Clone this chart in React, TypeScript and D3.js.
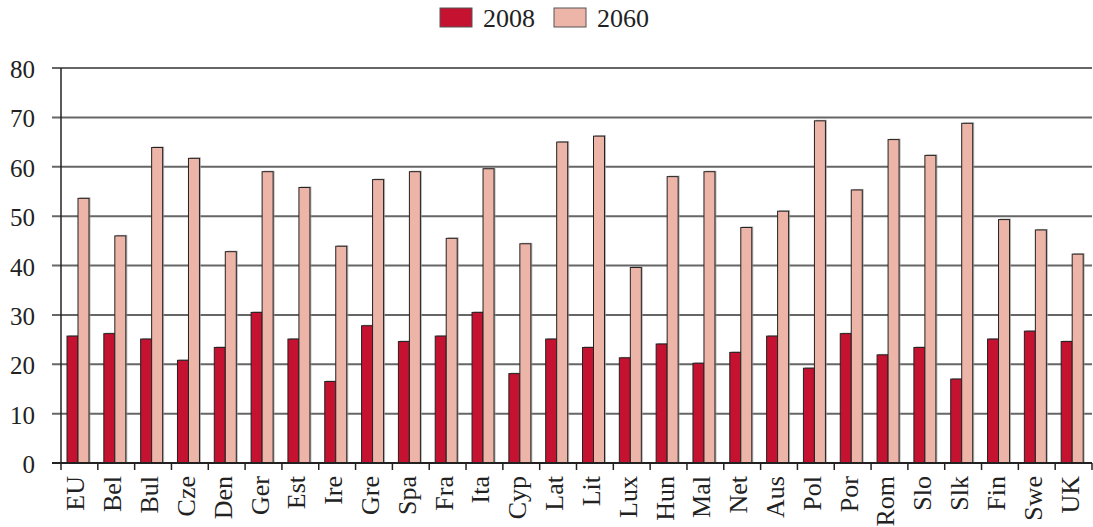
import React from "react";
import * as d3 from "d3";

// country codes along the x axis
const countries = [
  "EU", "Bel", "Bul", "Cze", "Den", "Ger", "Est", "Ire", "Gre", "Spa",
  "Fra", "Ita", "Cyp", "Lat", "Lit", "Lux", "Hun", "Mal", "Net", "Aus",
  "Pol", "Por", "Rom", "Slo", "Slk", "Fin", "Swe", "UK",
];

const values2008 = [
  25.7, 26.2, 25.1, 20.8, 23.4, 30.5, 25.1, 16.5, 27.8, 24.6,
  25.7, 30.5, 18.1, 25.1, 23.4, 21.3, 24.1, 20.2, 22.4, 25.7,
  19.2, 26.2, 21.9, 23.4, 17.0, 25.1, 26.7, 24.6,
];

const values2060 = [
  53.6, 46.0, 63.9, 61.7, 42.8, 59.0, 55.8, 43.9, 57.4, 59.0,
  45.5, 59.6, 44.4, 65.0, 66.2, 39.6, 58.0, 59.0, 47.7, 51.0,
  69.3, 55.3, 65.5, 62.3, 68.8, 49.3, 47.2, 42.3,
];

const seriesNames = ["2008", "2060"];
const yTicks = [0, 10, 20, 30, 40, 50, 60, 70, 80];

const colors = ["#c41230", "#edb4a8"];
const font = "'Liberation Serif', 'Times New Roman', serif";

export default function App() {
  const width = 1093;
  const height = 527;
  const left = 61;
  const right = 1092;
  const top = 68;
  const bottom = 463;

  const x = d3.scaleBand<string>().domain(countries).range([left, right]).padding(0);
  const y = d3.scaleLinear().domain([0, 80]).range([bottom, top]);
  const barW = 11;
  const offset = 6;

  const series = [values2008, values2060];

  return (
    <svg width={width} height={height} style={{ position: "absolute", left: 0, top: 0 }}>
      <rect width={width} height={height} fill="#fff" />

      {/* legend */}
      {seriesNames.map((name, i) => (
        <g key={name} transform={`translate(${440 + i * 114},0)`}>
          <rect x={0} y={8} width={32} height={19} fill={colors[i]} stroke="#555" strokeWidth={1} />
          <text x={43} y={27} fontFamily={font} fontSize={26} fill="#222">
            {name}
          </text>
        </g>
      ))}

      {/* grid + y labels */}
      {yTicks.map((t) => (
        <g key={t}>
          {t > 0 && (
            <line x1={52} x2={right} y1={y(t)} y2={y(t)} stroke="#666" strokeWidth={2} />
          )}
          <text
            x={35}
            y={y(t) + 10}
            textAnchor="end"
            fontFamily={font}
            fontSize={25}
            fill="#222"
          >
            {t}
          </text>
        </g>
      ))}

      {/* bars */}
      {countries.map((c, i) => (
        <g key={c}>
          {series.map((vals, s) => {
            const bx = (x(c) as number) + offset + s * barW;
            const by = y(vals[i]);
            const bh = bottom - by;
            return (
              <g key={s}>
                <rect x={bx + 1.5} y={by - 1} width={barW} height={bh + 1} fill="#999" opacity={0.7} />
                <rect x={bx} y={by} width={barW} height={bh} fill={colors[s]} stroke="#222" strokeWidth={1} />
              </g>
            );
          })}
        </g>
      ))}

      {/* axes */}
      <line x1={52} x2={right} y1={bottom} y2={bottom} stroke="#222" strokeWidth={2} />
      <line x1={left} x2={left} y1={top} y2={470} stroke="#222" strokeWidth={1.5} />
      {countries.map((c) => (
        <line key={c} x1={(x(c) as number) + x.bandwidth()} x2={(x(c) as number) + x.bandwidth()} y1={bottom} y2={470} stroke="#222" strokeWidth={1.5} />
      ))}

      {/* x labels */}
      {countries.map((c) => {
        const cx = (x(c) as number) + x.bandwidth() / 2 + 5;
        return (
          <text
            key={c}
            transform={`translate(${cx},476) rotate(-90)`}
            textAnchor="end"
            fontFamily={font}
            fontSize={26}
            fill="#222"
          >
            {c}
          </text>
        );
      })}
    </svg>
  );
}
